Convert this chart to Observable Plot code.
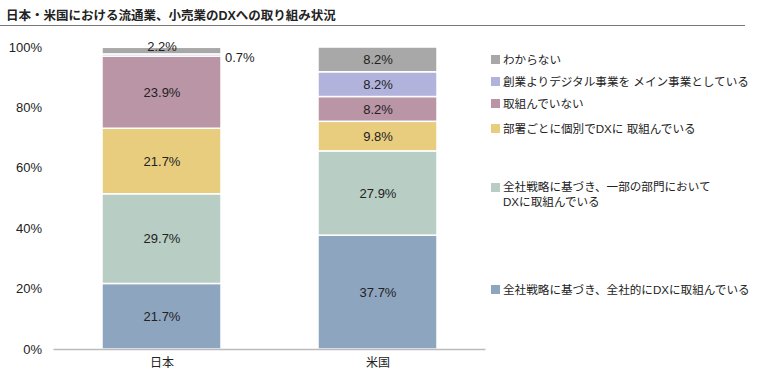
<!DOCTYPE html>
<html>
<head>
<meta charset="utf-8">
<script src="https://cdn.jsdelivr.net/npm/d3@7"></script>
<script src="https://cdn.jsdelivr.net/npm/@observablehq/plot@0.6"></script>
<style>
  body { margin: 0; background: #fff; }
  #wrap { position: relative; width: 759px; height: 375px; font-family: "Liberation Sans", "Noto Sans CJK JP", sans-serif; color: #222; }
  #title { position: absolute; left: 6px; top: 5px; font-size: 12.5px; font-weight: bold; white-space: nowrap; }
  #rule { position: absolute; left: 0; top: 25px; width: 745px; height: 0; border-top: 1.5px solid #777; }
  #legend { position: absolute; left: 0; top: 0; font-size: 11.6px; }
  .li { position: absolute; left: 491px; white-space: nowrap; line-height: 15px; }
  .sw { display: inline-block; width: 9px; height: 9px; margin-right: 3px; vertical-align: -0.5px; }
  .li2 { padding-left: 12px; display: block; }
  svg { position: absolute; left: 0; top: 0; }
</style>
</head>
<body>
<div id="wrap">
  <div id="title"></div>
  <div id="rule"></div>
  <div id="legend"></div>
</div>
<script>
const titleText = "日本・米国における流通業、小売業のDXへの取り組み状況";
const countries = ["日本", "米国"];
const seriesNames = [
  "全社戦略に基づき、全社的にDXに取組んでいる",
  "全社戦略に基づき、一部の部門において\nDXに取組んでいる",
  "部署ごとに個別でDXに 取組んでいる",
  "取組んでいない",
  "創業よりデジタル事業を メイン事業としている",
  "わからない"
];
const japanValues = [21.7, 29.7, 21.7, 23.9, 0.7, 2.2];
const usValues = [37.7, 27.9, 9.8, 8.2, 8.2, 8.2];
const seriesColors = ["#8ea5c0", "#b8cdc4", "#e9cd7e", "#b995a6", "#b1b3dc", "#a8a8a8"];
const yTicks = [0, 20, 40, 60, 80, 100];
const legendCenters = [289, 194, 128, 103, 81, 59]; // legend text vertical centers (layout)

const rows = [];
countries.forEach((c, ci) => {
  const vals = ci === 0 ? japanValues : usValues;
  seriesNames.forEach((s, si) => rows.push({country: c, series: s, value: vals[si], idx: si}));
});
const fmt = v => v.toFixed(1) + "%";

document.getElementById("title").textContent = titleText;

const chart = Plot.plot({
  width: 759,
  height: 375,
  marginLeft: 53.5,
  marginRight: 273.5,
  marginTop: 47,
  marginBottom: 26,
  style: {fontFamily: '"Liberation Sans", "Noto Sans CJK JP", sans-serif', fontSize: "12px", color: "#222", background: "transparent"},
  x: {domain: countries, paddingInner: 0.449, paddingOuter: 0.2245, label: null},
  y: {domain: [0, 100], label: null},
  color: {domain: seriesNames, range: seriesColors},
  marks: [
    Plot.axisY({ticks: yTicks, tickFormat: d => d + "%", tickSize: 0, tickPadding: 12, label: null, fontSize: 13}),
    Plot.axisX({tickSize: 0, tickPadding: 9, label: null, fontSize: 12}),
    Plot.barY(rows, {x: "country", y: "value", z: "series", fill: "series", stroke: "white", strokeWidth: 1.5}),
    Plot.ruleY([0], {stroke: "#bbb", strokeWidth: 1.5}),
    Plot.text(rows, Plot.stackY({x: "country", y: "value", z: "series", text: d => d.value >= 5 ? fmt(d.value) : null, fill: "#222", fontSize: 13})),
    Plot.text(rows, Plot.stackY2({x: "country", y: "value", z: "series", text: d => (d.value < 5 && d.idx === 5) ? fmt(d.value) : null, fill: "#222", fontSize: 13, dy: -1})),
    Plot.text(rows, Plot.stackY({x: "country", y: "value", z: "series", text: d => (d.value < 5 && d.idx === 4) ? fmt(d.value) : null, fill: "#222", fontSize: 13, textAnchor: "start", dx: 63, dy: 2}))
  ]
});
document.getElementById("wrap").appendChild(chart);

const legend = document.getElementById("legend");
seriesNames.forEach((s, i) => {
  const lines = s.split("\n");
  const div = document.createElement("div");
  div.className = "li";
  div.style.top = (legendCenters[i] - 7.5) + "px";
  const sw = document.createElement("span");
  sw.className = "sw";
  sw.style.background = seriesColors[i];
  div.appendChild(sw);
  div.appendChild(document.createTextNode(lines[0]));
  if (lines[1]) {
    div.style.top = (legendCenters[i] - 7.5 - 7.5) + "px";
    const l2 = document.createElement("span");
    l2.className = "li2";
    l2.textContent = lines[1];
    div.appendChild(l2);
  }
  legend.appendChild(div);
});
</script>
</body>
</html>
